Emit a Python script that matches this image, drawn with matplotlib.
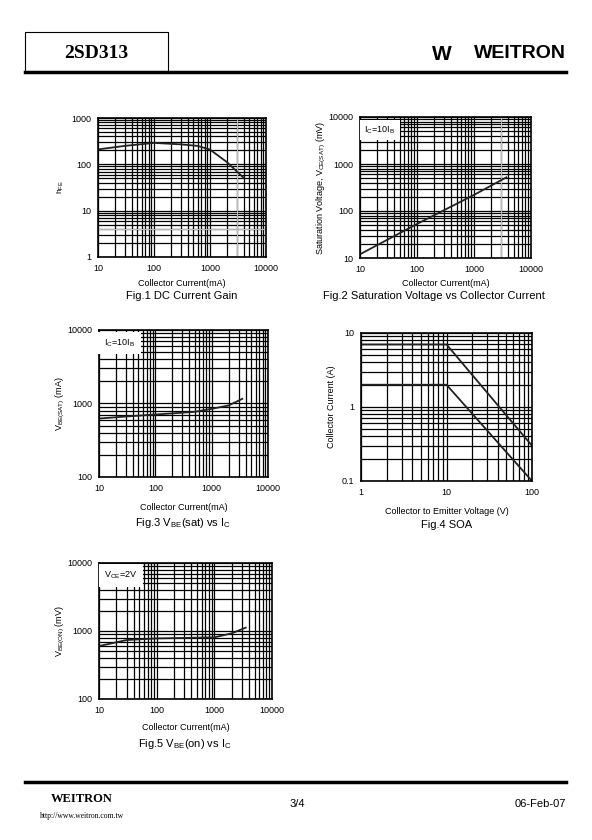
import matplotlib.pyplot as plt
import numpy as np

plt.rcParams['font.family'] = ['Liberation Sans', 'DejaVu Sans']
plt.rcParams['mathtext.fontset'] = 'custom'
plt.rcParams['mathtext.rm'] = 'Liberation Sans'

# Fig.1 DC current gain
ic1 = [10, 30, 100, 300, 600, 1000, 2000, 4000]
hfe = [210, 250, 290, 270, 250, 208, 112, 51]

# Fig.2 saturation voltage
ic2 = [10, 100, 1000, 3700]
vce_sat = [12, 53, 220, 520]

# Fig.3 VBE(sat)
ic3 = [10, 30, 100, 500, 1000, 2000, 3500]
vbe_sat = [624, 665, 708, 770, 846, 940, 1158]

# Fig.4 SOA
vce4 = [1, 10, 100]
ic4_a = [7, 7, 0.3]
ic4_b = [2, 2, 0.1]

# Fig.5 VBE(on)
ic5 = [10, 30, 100, 1000, 2000, 3500]
vbe_on = [600, 736, 778, 806, 924, 1120]

fig = plt.figure(figsize=(5.92, 8.4), dpi=100)
W, H = 592, 840


def make_ax(x0, y0, x1, y1):
    return fig.add_axes([x0 / W, 1 - y1 / H, (x1 - x0) / W, (y1 - y0) / H])


def style(ax, xlim, ylim, xticks, yticks):
    ax.set_xscale('log')
    ax.set_yscale('log')
    ax.set_xlim(*xlim)
    ax.set_ylim(*ylim)
    ax.grid(True, which='both', color='black', lw=0.9)
    ax.set_xticks(xticks)
    ax.set_xticklabels([str(t) for t in xticks])
    ax.set_yticks(yticks)
    ax.set_yticklabels([str(t) for t in yticks])
    ax.tick_params(which='both', length=0, labelsize=6.5, pad=5)
    for s in ax.spines.values():
        s.set_linewidth(1.2)


dec_x = [10, 100, 1000, 10000]

# Fig.1
ax1 = make_ax(98, 118, 266, 257)
style(ax1, (10, 10000), (1, 1000), dec_x, [1, 10, 100, 1000])
ax1.axvline(3000, color='#bbbbbb', lw=0.8)
ax1.axhline(4, color='#bbbbbb', lw=0.8)
ax1.plot(ic1, hfe, color='#222222', lw=1.3)
ax1.set_xlabel('Collector Current(mA)', fontsize=6.5, labelpad=4)
ax1.set_ylabel(r'$\mathregular{h_{FE}}$', fontsize=6, labelpad=4)

# Fig.2
ax2 = make_ax(360, 117, 531, 258)
style(ax2, (10, 10000), (10, 10000), dec_x, [10, 100, 1000, 10000])
ax2.axvline(3000, color='#bbbbbb', lw=0.8)
ax2.plot(ic2, vce_sat, color='#222222', lw=1.3)
ax2.set_xlabel('Collector Current(mA)', fontsize=6.5, labelpad=4)
ax2.set_ylabel(r'Saturation Voltage, $\mathregular{V_{CE(SAT)}}$ (mV)', fontsize=6.5, labelpad=0)
ax2.text(0.025, 0.95, r'$\mathregular{I_C}$=10$\mathregular{I_B}$', transform=ax2.transAxes,
         fontsize=6.5, va='top', ha='left',
         bbox=dict(facecolor='white', edgecolor='none', pad=3))

# Fig.3
ax3 = make_ax(99, 330, 268, 477)
style(ax3, (10, 10000), (100, 10000), dec_x, [100, 1000, 10000])
ax3.plot(ic3, vbe_sat, color='#222222', lw=1.3)
ax3.set_xlabel('Collector Current(mA)', fontsize=6.5, labelpad=7)
ax3.set_ylabel(r'$\mathregular{V_{BE(SAT)}}$ (mA)', fontsize=6.5, labelpad=0)
ax3.text(0.03, 0.95, r'$\mathregular{I_C}$=10$\mathregular{I_B}$', transform=ax3.transAxes,
         fontsize=6.5, va='top', ha='left',
         bbox=dict(facecolor='white', edgecolor='none', pad=4))

# Fig.4
ax4 = make_ax(361, 333, 532, 481)
style(ax4, (1, 100), (0.1, 10), [1, 10, 100], [0.1, 1, 10])
ax4.plot(vce4, ic4_a, color='#222222', lw=1.3)
ax4.plot(vce4, ic4_b, color='#222222', lw=1.3)
ax4.set_xlabel('Collector to Emitter Voltage (V)', fontsize=6.5, labelpad=7)
ax4.set_ylabel('Collector Current (A)', fontsize=6.5, labelpad=4)

# Fig.5
ax5 = make_ax(99, 563, 272, 699)
style(ax5, (10, 10000), (100, 10000), dec_x, [100, 1000, 10000])
ax5.plot(ic5, vbe_on, color='#222222', lw=1.3)
ax5.set_xlabel('Collector Current(mA)', fontsize=6.5, labelpad=6)
ax5.set_ylabel(r'$\mathregular{V_{BE(ON)}}$ (mV)', fontsize=6.5, labelpad=0)
ax5.text(0.03, 0.95, r'$\mathregular{V_{CE}}$=2V', transform=ax5.transAxes,
         fontsize=6.5, va='top', ha='left',
         bbox=dict(facecolor='white', edgecolor='none', pad=4))

# captions
fig.text(182 / W, 1 - 296 / H, 'Fig.1 DC Current Gain', fontsize=8, ha='center', va='center')
fig.text(434 / W, 1 - 296 / H, 'Fig.2 Saturation Voltage vs Collector Current', fontsize=8,
         ha='center', va='center')
fig.text(183 / W, 1 - 523 / H, r'Fig.3 $\mathregular{V_{BE}}$(sat) vs $\mathregular{I_C}$', fontsize=8,
         ha='center', va='center')
fig.text(447 / W, 1 - 525 / H, 'Fig.4 SOA', fontsize=8, ha='center', va='center')
fig.text(185 / W, 1 - 744 / H, r'Fig.5 $\mathregular{V_{BE}}$(on) vs $\mathregular{I_C}$', fontsize=8,
         ha='center', va='center')

# header
fig.add_artist(plt.Line2D([25 / W, 25 / W, 168 / W, 168 / W], [1 - 72 / H, 1 - 32 / H, 1 - 32 / H, 1 - 72 / H],
                          color='black', lw=0.8))
fig.add_artist(plt.Line2D([25 / W, 566 / W], [1 - 72 / H, 1 - 72 / H], color='black', lw=2.5))
fig.text(96 / W, 1 - 53 / H, '2SD313', fontsize=14, fontweight='bold', family='Liberation Serif',
         ha='center', va='center')
fig.text(442 / W, 1 - 54 / H, 'W', fontsize=15, fontweight='bold', ha='center', va='center')
fig.text(566 / W, 1 - 54 / H, 'WEITRON', fontsize=14, fontweight='bold', ha='right', va='center')

# footer
fig.add_artist(plt.Line2D([25 / W, 566 / W], [1 - 782 / H, 1 - 782 / H], color='black', lw=2.5))
fig.text(82 / W, 1 - 799 / H, 'WEITRON', fontsize=9, fontweight='bold', family='Liberation Serif',
         ha='center', va='center')
fig.text(82 / W, 1 - 816 / H, 'http://www.weitron.com.tw', fontsize=5.5, family='Liberation Serif',
         ha='center', va='center')
fig.text(297 / W, 1 - 804 / H, '3/4', fontsize=8, ha='center', va='center')
fig.text(566 / W, 1 - 804 / H, '06-Feb-07', fontsize=8, ha='right', va='center')

fig.savefig('out.png', dpi=100)
